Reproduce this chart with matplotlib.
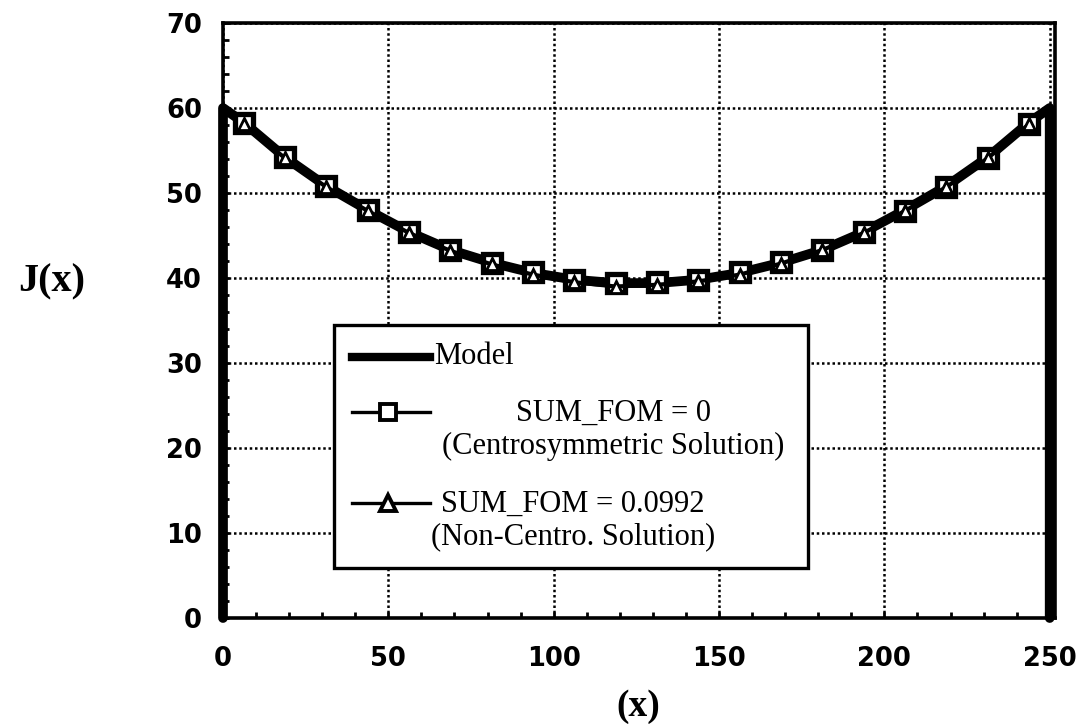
import matplotlib
matplotlib.use("Agg")
import matplotlib.pyplot as plt
from matplotlib.ticker import MultipleLocator
from matplotlib.patches import Rectangle

# Sample positions along x
x_pts = [6.25, 18.75, 31.25, 43.75, 56.25, 68.75, 81.25, 93.75, 106.25, 118.75,
         131.25, 143.75, 156.25, 168.75, 181.25, 193.75, 206.25, 218.75, 231.25, 243.75]

# Model J(x): zero outside [0, 250], 60 at the edges
model_x = [0, 0] + x_pts + [250, 250]
model_y = [0, 60, 58.3, 54.2, 50.8, 48.0, 45.4, 43.3, 41.8, 40.6, 39.8, 39.4,
           39.4, 39.8, 40.6, 41.8, 43.3, 45.4, 48.0, 50.8, 54.2, 58.3, 60, 0]

# Recovered J(x), centrosymmetric solution (SUM_FOM = 0)
centro_y = [58.2, 54.2, 50.8, 48.0, 45.4, 43.3, 41.8, 40.7, 39.8, 39.4,
            39.5, 39.8, 40.7, 41.9, 43.3, 45.4, 47.9, 50.7, 54.1, 58.1]

# Recovered J(x), non-centrosymmetric solution (SUM_FOM = 0.0992)
noncentro_y = [58.1, 54.1, 50.7, 47.9, 45.3, 43.2, 41.6, 40.4, 39.5, 39.0,
               39.2, 39.6, 40.4, 41.7, 43.3, 45.3, 47.9, 50.7, 54.1, 58.1]

x_ticks = [0, 50, 100, 150, 200, 250]
y_ticks = [0, 10, 20, 30, 40, 50, 60, 70]

legend_labels = ["Model",
                 "SUM_FOM = 0\n(Centrosymmetric Solution)",
                 "SUM_FOM = 0.0992\n(Non-Centro. Solution)"]

fig = plt.figure(figsize=(10.81, 7.24), dpi=100)
ax = fig.add_axes([223 / 1081, 1 - 618 / 724, 832 / 1081, 595 / 724])

ax.set_xlim(0, 251.6)
ax.set_ylim(0, 70)

# Curves
ax.plot(model_x, model_y, color="black", lw=7, solid_joinstyle="round",
        solid_capstyle="round", zorder=2, clip_on=False)
ax.plot(x_pts, centro_y, color="black", lw=3, marker="s", ms=12.5,
        mfc="white", mec="black", mew=3.8, zorder=3)
ax.plot(x_pts, noncentro_y, color="black", lw=3, marker="^", ms=8,
        mfc="white", mec="black", mew=2, zorder=4)

# Axes styling
ax.set_xticks(x_ticks)
ax.set_yticks(y_ticks)
ax.xaxis.set_minor_locator(MultipleLocator(10))
ax.yaxis.set_minor_locator(MultipleLocator(2))
ax.tick_params(which="both", direction="in", length=4, width=2, top=False, right=False)
ax.tick_params(axis="x", which="major", pad=20)
ax.tick_params(axis="y", which="major", pad=15)
for lab in ax.get_xticklabels() + ax.get_yticklabels():
    lab.set_fontfamily("DejaVu Sans")
    lab.set_fontweight("bold")
    lab.set_fontsize(18.5)

for sp in ax.spines.values():
    sp.set_linewidth(2.6)
    sp.set_zorder(6)

ax.grid(True, which="major", color="black", linestyle=(0, (1, 1.1)), lw=1.8, zorder=0.5)
ax.set_axisbelow(True)

ax.set_ylabel("J(x)", rotation=0, fontfamily="Liberation Serif", fontweight="bold",
              fontsize=29, ha="center", va="center")
ax.yaxis.set_label_coords(-0.2055, 0.5647)
ax.set_xlabel("(x)", fontfamily="Liberation Serif", fontweight="bold",
              fontsize=27, ha="center", va="center")
ax.xaxis.set_label_coords(0.4988, -0.1479)

# Legend box drawn in axes coordinates
tr = ax.transAxes
ax.add_patch(Rectangle((0.1334, 0.084), 0.5696, 0.4084, transform=tr,
                       facecolor="white", edgecolor="black", lw=2.4, zorder=7))

lx0, lx1, lxm = 0.155, 0.249, 0.1983
ax.plot([lx0, lx1], [0.4387, 0.4387], transform=tr, color="black", lw=6, zorder=8)
ax.text(0.2536, 0.4387, legend_labels[0], transform=tr, ha="left", va="center",
        fontfamily="Liberation Serif", fontsize=22, zorder=9)

ax.plot([lx0, lx1], [0.346, 0.346], transform=tr, color="black", lw=2.4, zorder=8)
ax.plot([lxm], [0.346], transform=tr, marker="s", ms=12, mfc="white", mec="black",
        mew=2.8, zorder=9)
ax.text(0.4688, 0.316, legend_labels[1], transform=tr, ha="center", va="center",
        multialignment="center", linespacing=1.15,
        fontfamily="Liberation Serif", fontsize=22, zorder=9)

ax.plot([lx0, lx1], [0.193, 0.193], transform=tr, color="black", lw=2.4, zorder=8)
ax.plot([lxm], [0.193], transform=tr, marker="^", ms=11, mfc="white", mec="black",
        mew=2.8, zorder=9)
ax.text(0.4207, 0.1639, legend_labels[2], transform=tr, ha="center", va="center",
        multialignment="center", linespacing=1.15,
        fontfamily="Liberation Serif", fontsize=22, zorder=9)

fig.savefig("out.png", dpi=100)
